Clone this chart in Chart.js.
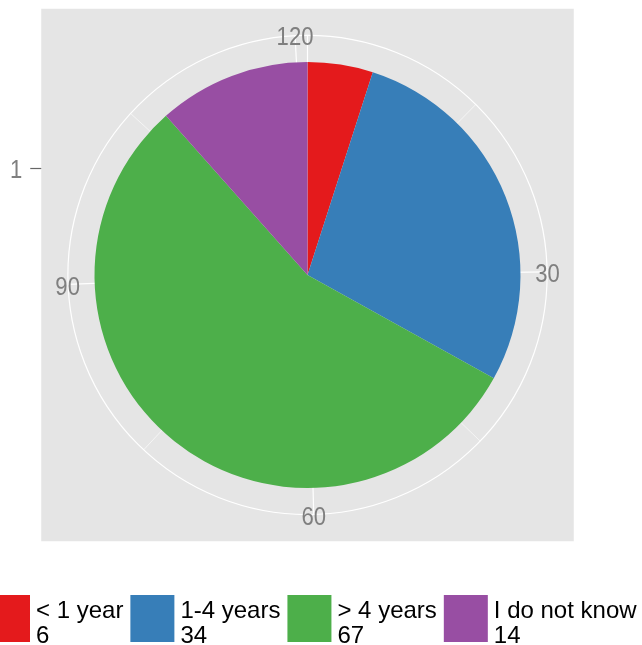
<!DOCTYPE html>
<html>
<head>
<meta charset="utf-8">
<script src="https://cdn.jsdelivr.net/npm/chart.js@4.4.0/dist/chart.umd.min.js"></script>
<style>
  body { margin: 0; background: #fff; }
  #wrap { width: 642px; height: 645px; position: relative; }
</style>
</head>
<body>
<div id="wrap"><canvas id="myPie"></canvas></div>
<script>
// data
const labels = ['< 1 year', '1-4 years', '> 4 years', 'I do not know'];
const counts = [6, 34, 67, 14];
const colors = ['#E41A1C', '#377EB8', '#4DAF4A', '#984EA3'];
// theta axis (cumulative count), like ggplot coord_polar
const thetaMajor = [0, 30, 60, 90, 120];
const thetaLabels = [30, 60, 90, 120];
const thetaMinor = [15, 45, 75, 105];
const rLabels = ['1'];

const ggPolar = {
    id: 'ggPolar',
    beforeDatasetsDraw(chart) {
        const ctx = chart.ctx;
        const arc = chart.getDatasetMeta(0).data[0];
        const cx = arc.x, cy = arc.y, r = arc.outerRadius;
        const total = counts.reduce((a, b) => a + b, 0);
        const ang = v => v / total * Math.PI * 2;

        ctx.save();
        // grey panel
        ctx.fillStyle = '#E5E5E5';
        ctx.fillRect(cx - 1.25 * r, cy - 1.25 * r, 2.5 * r, 2.5 * r);

        // spokes
        ctx.strokeStyle = '#FFFFFF';
        const spoke = (v, w) => {
            ctx.lineWidth = w;
            ctx.beginPath();
            ctx.moveTo(cx, cy);
            ctx.lineTo(cx + 1.125 * r * Math.sin(ang(v)), cy - 1.125 * r * Math.cos(ang(v)));
            ctx.stroke();
        };
        thetaMinor.forEach(v => spoke(v, 0.6));
        thetaMajor.forEach(v => spoke(v, 1.2));

        // outer circle
        ctx.lineWidth = 1.2;
        ctx.beginPath();
        ctx.arc(cx, cy, 1.125 * r, 0, Math.PI * 2);
        ctx.stroke();

        // theta labels
        ctx.fillStyle = '#7F7F7F';
        ctx.font = '26px "Liberation Sans", Arial, sans-serif';
        ctx.textAlign = 'center';
        ctx.textBaseline = 'middle';
        thetaLabels.forEach(v => {
            const x = cx + 1.127 * r * Math.sin(ang(v));
            const y = cy - 1.127 * r * Math.cos(ang(v)) + 3;
            ctx.save();
            ctx.translate(x, y);
            ctx.scale(0.85, 1);
            ctx.fillText(String(v), 0, 0);
            ctx.restore();
        });

        // r axis on the left of the panel
        const left = cx - 1.25 * r;
        rLabels.forEach((t, i) => {
            const y = cy - r * 0.5;
            ctx.strokeStyle = '#666666';
            ctx.lineWidth = 1.2;
            ctx.beginPath();
            ctx.moveTo(left - 11, y);
            ctx.lineTo(left, y);
            ctx.stroke();
            ctx.save();
            ctx.translate(left - 25, y + 2);
            ctx.scale(0.85, 1);
            ctx.fillText(t, 0, 0);
            ctx.restore();
        });
        ctx.restore();
    },
    afterDraw(chart) {
        // legend at the bottom, two lines per key
        const ctx = chart.ctx;
        ctx.save();
        ctx.font = '24px "Liberation Sans", Arial, sans-serif';
        ctx.textAlign = 'left';
        ctx.textBaseline = 'alphabetic';
        let x = -14;
        labels.forEach((lab, i) => {
            ctx.fillStyle = colors[i];
            ctx.fillRect(x, 595, 44, 47);
            const tx = x + 50;
            ctx.fillStyle = '#000000';
            ctx.fillText(lab, tx, 618);
            ctx.fillText(String(counts[i]), tx, 643);
            const w = Math.max(ctx.measureText(lab).width, ctx.measureText(String(counts[i])).width);
            x = tx + w + 7;
        });
        ctx.restore();
    }
};

function drawPie() {
    var ctx = document.getElementById('myPie').getContext('2d');
    new Chart(ctx, {
        type: 'pie',
        data: {
            labels: labels,
            datasets: [{
                data: counts,
                backgroundColor: colors,
                borderWidth: 0
            }]
        },
        options: {
            responsive: true,
            maintainAspectRatio: false,
            animation: false,
            layout: { padding: { left: 94.5, right: 121.5, top: 62, bottom: 157 } },
            plugins: {
                legend: { display: false },
                tooltip: { enabled: false }
            }
        },
        plugins: [ggPolar]
    });
}
document.addEventListener('DOMContentLoaded', () => {
    drawPie();
});
</script>
</body>
</html>
